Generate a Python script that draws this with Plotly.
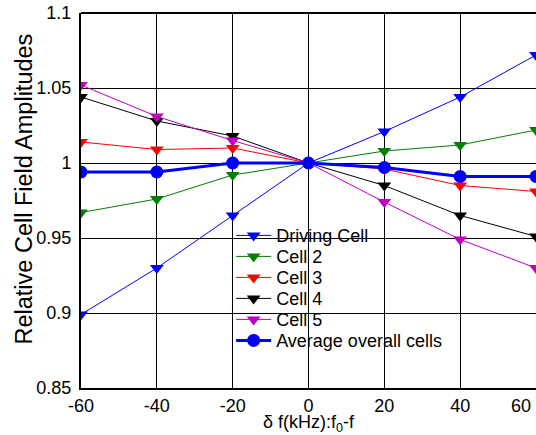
import plotly.graph_objects as go

x_vals = [-60, -40, -20, 0, 20, 40, 60]
driving_cell = [0.899, 0.930, 0.965, 1.000, 1.021, 1.044, 1.072]
cell_2 = [0.967, 0.976, 0.992, 1.000, 1.008, 1.012, 1.022]
cell_3 = [1.014, 1.009, 1.010, 1.000, 0.996, 0.985, 0.981]
cell_4 = [1.044, 1.028, 1.018, 1.000, 0.985, 0.965, 0.951]
cell_5 = [1.052, 1.031, 1.015, 1.000, 0.974, 0.949, 0.930]
average = [0.994, 0.994, 1.000, 1.000, 0.997, 0.991, 0.991]

x_ticks = [-60, -40, -20, 0, 20, 40, 60]
x_tick_labels = ["-60", "-40", "-20", "0", "20", "40", "60"]
y_ticks = [0.85, 0.9, 0.95, 1.0, 1.05, 1.1]
y_tick_labels = ["0.85", "0.9", "0.95", "1", "1.05", "1.1"]

FONT = "Liberation Sans, Arial, sans-serif"

series = [
    ("Driving Cell", driving_cell, "#0000ff", "triangle-down", 1, 12),
    ("Cell 2", cell_2, "#008000", "triangle-down", 1, 12),
    ("Cell 3", cell_3, "#ff0000", "triangle-down", 1, 12),
    ("Cell 4", cell_4, "#000000", "triangle-down", 1, 12),
    ("Cell 5", cell_5, "#c000c0", "triangle-down", 1, 12),
    ("Average overall cells", average, "#0000ff", "circle", 3, 13),
]

PLOT_L, PLOT_T, PLOT_W, PLOT_H = 81, 13, 455, 375
fig = go.Figure()
legend_layouts = {}
for i, (name, ys, color, symbol, lw, ms) in enumerate(series):
    lname = "legend" if i == 0 else f"legend{i + 1}"
    fig.add_trace(go.Scatter(
        x=x_vals, y=ys, name=name, mode="lines+markers",
        line=dict(color=color, width=lw),
        marker=dict(symbol=symbol, size=ms, color=color, line=dict(width=0)),
        legend=lname,
    ))
    row_center = 222.7 + 21 * i
    legend_layouts[lname] = dict(
        x=0.33, y=1 - row_center / PLOT_H, xanchor="left", yanchor="middle",
        bgcolor="rgba(0,0,0,0)", borderwidth=0, itemwidth=35,
        font=dict(family=FONT, size=18, color="black"),
    )

# last x tick label sits at the cropped right edge, so draw it shifted inside
fig.add_annotation(
    x=x_ticks[-1], y=0, xref="x", yref="paper", text=x_tick_labels[-1],
    showarrow=False, xanchor="right", yanchor="top", xshift=-3, yshift=-6,
    font=dict(family=FONT, size=18, color="black"),
)
# y-axis title
fig.add_annotation(
    x=(23 - PLOT_L) / PLOT_W, y=1 - (189.5 - PLOT_T) / PLOT_H,
    xref="paper", yref="paper", text="Relative Cell Field Amplitudes",
    textangle=-90, showarrow=False, xanchor="center", yanchor="middle",
    font=dict(family=FONT, size=23.5, color="black"),
)
# top frame line
fig.add_shape(type="line", xref="paper", yref="paper", x0=0, x1=1, y0=1, y1=1,
              layer="above", line=dict(color="black", width=2))

fig.update_layout(
    width=536, height=435,
    margin=dict(l=PLOT_L, r=0, t=PLOT_T, b=47, autoexpand=False),
    paper_bgcolor="white", plot_bgcolor="white",
    font=dict(family=FONT, size=18, color="black"),
    showlegend=True,
    xaxis=dict(
        range=[-60, 60], tickvals=x_ticks[:-1], ticktext=x_tick_labels[:-1],
        showgrid=True, gridcolor="black", gridwidth=1,
        showline=True, linecolor="black", linewidth=2,
        ticks="", zeroline=False, ticklabelstandoff=0, automargin=False,
        title=dict(text="\u03b4 f(kHz):f<sub>0</sub>-f", font=dict(family=FONT, size=18), standoff=0),
    ),
    yaxis=dict(
        range=[0.85, 1.1], tickvals=y_ticks, ticktext=y_tick_labels,
        showgrid=True, gridcolor="black", gridwidth=1,
        showline=True, linecolor="black", linewidth=2,
        ticks="", zeroline=False, ticklabelstandoff=4, automargin=False,
    ),
    **legend_layouts,
)

fig.write_html(
    "out.html",
    config={"displayModeBar": False},
    post_script="document.body.style.margin='0';document.body.style.overflow='hidden';",
)
